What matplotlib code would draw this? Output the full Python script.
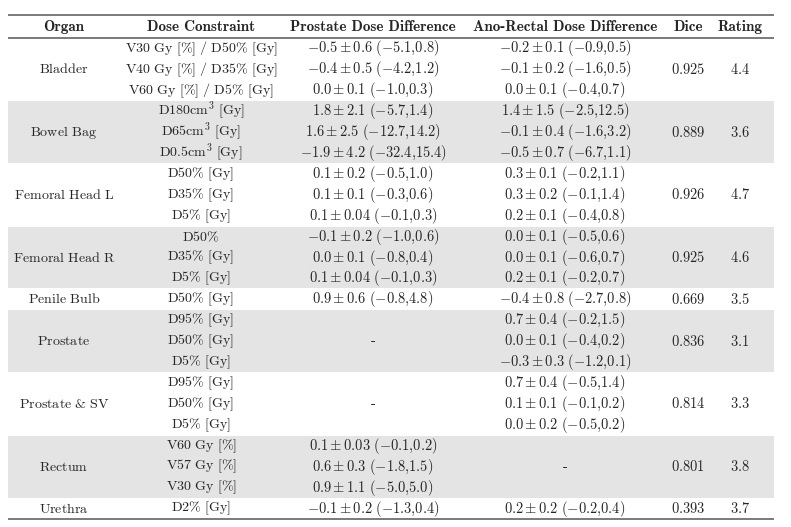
import matplotlib
matplotlib.use("Agg")
import matplotlib.pyplot as plt

plt.rcParams['mathtext.fontset'] = 'cm'

headers = ["Organ", "Dose Constraint", "Prostate Dose Difference",
           "Ano-Rectal Dose Difference", "Dice", "Rating"]

organs = ["Bladder", "Bowel Bag", "Femoral Head L", "Femoral Head R",
          "Penile Bulb", "Prostate", "Prostate & SV", "Rectum", "Urethra"]

constraints = [
    ["V30 Gy [%] / D50% [Gy]", "V40 Gy [%] / D35% [Gy]", "V60 Gy [%] / D5% [Gy]"],
    ["D180cm^3 [Gy]", "D65cm^3 [Gy]", "D0.5cm^3 [Gy]"],
    ["D50% [Gy]", "D35% [Gy]", "D5% [Gy]"],
    ["D50%", "D35% [Gy]", "D5% [Gy]"],
    ["D50% [Gy]"],
    ["D95% [Gy]", "D50% [Gy]", "D5% [Gy]"],
    ["D95% [Gy]", "D50% [Gy]", "D5% [Gy]"],
    ["V60 Gy [%]", "V57 Gy [%]", "V30 Gy [%]"],
    ["D2% [Gy]"],
]

# (mean, sd, min, max); None = "-"
prostate_diff = [
    [(-0.5, 0.6, -5.1, 0.8), (-0.4, 0.5, -4.2, 1.2), (0.0, 0.1, -1.0, 0.3)],
    [(1.8, 2.1, -5.7, 1.4), (1.6, 2.5, -12.7, 14.2), (-1.9, 4.2, -32.4, 15.4)],
    [(0.1, 0.2, -0.5, 1.0), (0.1, 0.1, -0.3, 0.6), (0.1, 0.04, -0.1, 0.3)],
    [(-0.1, 0.2, -1.0, 0.6), (0.0, 0.1, -0.8, 0.4), (0.1, 0.04, -0.1, 0.3)],
    [(0.9, 0.6, -0.8, 4.8)],
    None,
    None,
    [(0.1, 0.03, -0.1, 0.2), (0.6, 0.3, -1.8, 1.5), (0.9, 1.1, -5.0, 5.0)],
    [(-0.1, 0.2, -1.3, 0.4)],
]

anorectal_diff = [
    [(-0.2, 0.1, -0.9, 0.5), (-0.1, 0.2, -1.6, 0.5), (0.0, 0.1, -0.4, 0.7)],
    [(1.4, 1.5, -2.5, 12.5), (-0.1, 0.4, -1.6, 3.2), (-0.5, 0.7, -6.7, 1.1)],
    [(0.3, 0.1, -0.2, 1.1), (0.3, 0.2, -0.1, 1.4), (0.2, 0.1, -0.4, 0.8)],
    [(0.0, 0.1, -0.5, 0.6), (0.0, 0.1, -0.6, 0.7), (0.2, 0.1, -0.2, 0.7)],
    [(-0.4, 0.8, -2.7, 0.8)],
    [(0.7, 0.4, -0.2, 1.5), (0.0, 0.1, -0.4, 0.2), (-0.3, 0.3, -1.2, 0.1)],
    [(0.7, 0.4, -0.5, 1.4), (0.1, 0.1, -0.1, 0.2), (0.0, 0.2, -0.5, 0.2)],
    None,
    [(0.2, 0.2, -0.2, 0.4)],
]

dice = [0.925, 0.889, 0.926, 0.925, 0.669, 0.836, 0.814, 0.801, 0.393]
rating = [4.4, 3.6, 4.7, 4.6, 3.5, 3.1, 3.3, 3.8, 3.7]
shaded = [False, True, False, True, False, True, False, True, False]

# ---- layout (pixel space) ----
W, H = 791, 527
x_left, x_right = 8, 774
y_top_rule, y_head_rule, y_bottom = 14.5, 38.0, 519.0
col_x = [64, 201, 373, 565, 688, 740]
FS = 10.4
FS_CON = 10.1
FS_HEAD = 10.9
TEXT = "#262626"
RULE = "#7a7a7a"
GRAY = "#e4e4e4"


def esc(s):
    return s.replace("%", r"\%").replace(" ", r"\ ")


def rm(s):
    if "^" in s:
        base, rest = s.split("^", 1)
        sup, tail = rest[0], rest[1:]
        return r"$\mathrm{" + esc(base) + r"}^{" + sup + r"}\mathrm{" + esc(tail) + r"}$"
    return r"$\mathrm{" + esc(s) + r"}$"


def fmt_diff(v):
    m, sd, lo, hi = v
    return r"$%s \pm %s\ (%s{,}%s)$" % (repr(m), repr(sd), repr(lo), repr(hi))


fig = plt.figure(figsize=(W / 100, H / 100), dpi=100)
ax = fig.add_axes([0, 0, 1, 1])
ax.set_xlim(0, W)
ax.set_ylim(H, 0)
ax.axis("off")

n_rows = sum(len(c) for c in constraints)
rh = (y_bottom - y_head_rule) / n_rows

# header
for x, h in zip(col_x, headers):
    ax.text(x, (y_top_rule + y_head_rule) / 2 + 0.5, h, ha="center", va="center",
            fontsize=FS_HEAD, color=TEXT, family="cmb10")

r0 = 0
for g, organ in enumerate(organs):
    n = len(constraints[g])
    y0 = y_head_rule + r0 * rh
    y1 = y0 + n * rh
    if shaded[g]:
        ax.fill_between([x_left, x_right], y0 + 0.5, y1 - 0.5, color=GRAY, lw=0, zorder=0)
    ymid = (y0 + y1) / 2
    ax.text(col_x[0], ymid, rm(organ), ha="center", va="center", fontsize=FS_CON, color=TEXT)
    ax.text(col_x[4], ymid, rm("%.3f" % dice[g]), ha="center", va="center", fontsize=FS, color=TEXT)
    ax.text(col_x[5], ymid, rm("%.1f" % rating[g]), ha="center", va="center", fontsize=FS, color=TEXT)
    for i in range(n):
        yc = y0 + (i + 0.5) * rh
        ax.text(col_x[1], yc, rm(constraints[g][i]), ha="center", va="center",
                fontsize=FS_CON, color=TEXT)
        if prostate_diff[g] is not None:
            ax.text(col_x[2], yc, fmt_diff(prostate_diff[g][i]), ha="center", va="center",
                    fontsize=FS, color=TEXT)
        if anorectal_diff[g] is not None:
            ax.text(col_x[3], yc, fmt_diff(anorectal_diff[g][i]), ha="center", va="center",
                    fontsize=FS, color=TEXT)
    if prostate_diff[g] is None:
        ax.text(col_x[2], ymid, "-", ha="center", va="center", fontsize=FS, color=TEXT,
                family="cmr10")
    if anorectal_diff[g] is None:
        ax.text(col_x[3], ymid, "-", ha="center", va="center", fontsize=FS, color=TEXT,
                family="cmr10")
    r0 += n

for y in (y_top_rule, y_head_rule, y_bottom):
    ax.plot([x_left, x_right], [y, y], color=RULE, lw=1.4, solid_capstyle="butt")

fig.savefig("out.png", dpi=100)
